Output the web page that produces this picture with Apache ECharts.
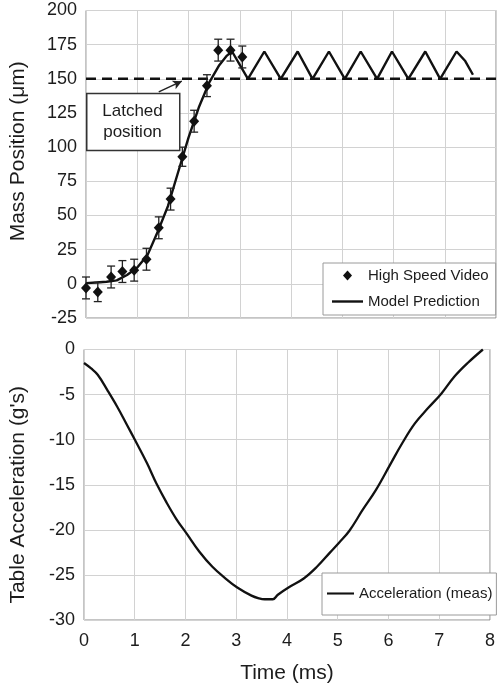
<!DOCTYPE html>
<html><head><meta charset="utf-8">
<script src="https://cdn.jsdelivr.net/npm/echarts@6/dist/echarts.min.js"></script>
<style>html,body{margin:0;padding:0;background:#fff}#c{width:498px;height:691px}</style>
</head><body><div id="c"></div>
<script>
// High speed video measurements (time ms, position um, error um)
const videoT = [0, 0.23, 0.49, 0.71, 0.94, 1.18, 1.42, 1.65, 1.88, 2.11, 2.36, 2.58, 2.82, 3.05];
const videoY = [-3, -6, 5, 9, 10, 18, 41, 62, 93, 119, 145, 171, 171, 166];
const videoErr = [8, 7, 8, 8, 8, 8, 8, 8, 7, 8, 8, 8, 8, 8];
// Model prediction
const modelT = [0, 0.2, 0.4, 0.6, 0.8, 1.0, 1.2, 1.42, 1.6, 1.8, 2.0, 2.2, 2.4, 2.6, 2.75, 2.85, 3.16, 3.48, 3.80, 4.13, 4.42, 4.74, 5.05, 5.36, 5.68, 5.97, 6.29, 6.62, 6.91, 7.23, 7.4, 7.55];
const modelY = [0.5, 1, 1.5, 2.5, 6.5, 12, 21, 40, 57, 82, 107, 129, 147, 160, 167, 170, 150, 170, 150, 170, 150, 170, 150, 170, 150, 170, 150, 170, 150, 170, 163, 153];
// Latched position
const latchedY = 150;
// Table acceleration (meas)
const accT = [0, 0.14, 0.27, 0.46, 0.66, 0.85, 1.01, 1.24, 1.43, 1.62, 1.82, 2.02, 2.27, 2.53, 2.79, 3.02, 3.30, 3.45, 3.56, 3.72, 3.82, 4.03, 4.33, 4.59, 4.85, 5.03, 5.23, 5.49, 5.75, 6.03, 6.27, 6.52, 6.78, 7.04, 7.30, 7.56, 7.86];
const accY = [-1.5, -2.1, -2.8, -4.5, -6.4, -8.4, -10.1, -12.6, -14.9, -16.9, -18.8, -20.4, -22.4, -24.1, -25.4, -26.4, -27.3, -27.6, -27.7, -27.7, -27.2, -26.4, -25.4, -24.1, -22.5, -21.4, -20.1, -17.8, -15.6, -12.8, -10.4, -8.2, -6.5, -4.9, -3.0, -1.5, 0];

const FONT = "'Liberation Sans', Arial, sans-serif";
const TXT = '#1c1c1c';
const LINE_ICON = 'path://M0,0L31,0L31,2.4L0,2.4Z';
const DIAMOND_ICON = 'path://M5,0L10,5.5L5,11L0,5.5Z';
const chart = echarts.init(document.getElementById('c'), null, {renderer: 'canvas'});
const split = {show: true, lineStyle: {color: '#d2d2d2', width: 1}};
const option = {
  animation: false,
  backgroundColor: '#fff',
  textStyle: {fontFamily: FONT, color: TXT},
  grid: [
    {left: 82, top: 10.5, width: 414, height: 307.5, show: true, borderColor: '#8a8a8a', borderWidth: 1, backgroundColor: 'transparent'},
    {left: 82.5, top: 349.5, width: 413.5, height: 270.5, show: true, borderColor: '#8a8a8a', borderWidth: 1, backgroundColor: 'transparent'}
  ],
  xAxis: [
    {gridIndex: 0, type: 'value', min: 0, max: 8, interval: 1, axisLabel: {show: false}, axisTick: {show: false}, axisLine: {show: false}, splitLine: split},
    {gridIndex: 1, type: 'value', min: 0, max: 8, interval: 1, axisTick: {show: false}, axisLine: {show: false}, splitLine: split,
     axisLabel: {fontSize: 18, color: TXT, fontFamily: FONT, margin: 12},
     name: 'Time (ms)', nameLocation: 'middle', nameGap: 43, nameTextStyle: {fontSize: 21, color: TXT, fontFamily: FONT}}
  ],
  yAxis: [
    {gridIndex: 0, type: 'value', min: -25, max: 200, interval: 25, axisTick: {show: false}, axisLine: {show: false}, splitLine: split,
     axisLabel: {fontSize: 18, color: TXT, fontFamily: FONT, margin: 9},
     name: 'Mass Position (μm)', nameLocation: 'middle', nameGap: 57,
     nameTextStyle: {fontSize: 21, color: TXT, fontFamily: FONT, padding: [0, 0, 0, 26]}},
    {gridIndex: 1, type: 'value', min: -30, max: 0, interval: 5, axisTick: {show: false}, axisLine: {show: false}, splitLine: split,
     axisLabel: {fontSize: 18, color: TXT, fontFamily: FONT, margin: 9},
     name: "Table Acceleration (g's)", nameLocation: 'middle', nameGap: 55,
     nameTextStyle: {fontSize: 21, color: TXT, fontFamily: FONT, padding: [0, 20, 0, 0]}}
  ],
  legend: [
    {show: true, left: 323, top: 263, orient: 'vertical', backgroundColor: '#fff', borderColor: '#9a9a9a', borderWidth: 1,
     padding: [5, 7, 6, 9], itemGap: 11, itemWidth: 31, itemHeight: 10, symbolKeepAspect: true,
     textStyle: {fontSize: 15, color: TXT, fontFamily: FONT},
     data: [{name: 'High Speed Video', icon: DIAMOND_ICON}, {name: 'Model Prediction', icon: LINE_ICON}]},
    {show: true, left: 322, top: 573, orient: 'vertical', backgroundColor: '#fff', borderColor: '#9a9a9a', borderWidth: 1,
     padding: [13, 4, 14, 5], itemWidth: 27, itemHeight: 10, symbolKeepAspect: true,
     textStyle: {fontSize: 15, color: TXT, fontFamily: FONT},
     data: [{name: 'Acceleration (meas)', icon: LINE_ICON}]}
  ],
  series: [
    {name: 'Latched', type: 'line', xAxisIndex: 0, yAxisIndex: 0, symbol: 'none', silent: true,
     data: [[0, latchedY], [8, latchedY]], lineStyle: {color: '#111', width: 2.5, type: [10, 6]}, z: 2,
     markLine: {silent: true, symbol: ['none', 'arrow'], symbolSize: [7, 9], label: {show: false},
       lineStyle: {color: '#222', width: 1.5, type: 'solid'},
       data: [[{coord: [1.42, 140.5]}, {coord: [1.87, 148.3]}]]}},
    {name: 'Model Prediction', type: 'line', xAxisIndex: 0, yAxisIndex: 0, symbol: 'none',
     data: modelT.map((t, i) => [t, modelY[i]]), lineStyle: {color: '#111', width: 2.4}, itemStyle: {color: '#111'}, z: 3},
    {name: 'High Speed Video', type: 'scatter', xAxisIndex: 0, yAxisIndex: 0, symbol: 'diamond', symbolSize: [10, 11],
     data: videoT.map((t, i) => [t, videoY[i]]), itemStyle: {color: '#111', opacity: 1}, z: 5},
    {name: 'Error', type: 'custom', xAxisIndex: 0, yAxisIndex: 0, z: 4, silent: true,
     data: videoT.map((t, i) => [t, videoY[i], videoErr[i]]),
     renderItem: function (params, api) {
       const x = api.value(0), y = api.value(1), e = api.value(2);
       const top = api.coord([x, y + e]);
       const bot = api.coord([x, y - e]);
       const h = 4;
       const st = {stroke: '#222', lineWidth: 1.3, fill: null};
       return {type: 'group', children: [
         {type: 'line', shape: {x1: top[0], y1: top[1], x2: bot[0], y2: bot[1]}, style: st},
         {type: 'line', shape: {x1: top[0] - h, y1: top[1], x2: top[0] + h, y2: top[1]}, style: st},
         {type: 'line', shape: {x1: bot[0] - h, y1: bot[1], x2: bot[0] + h, y2: bot[1]}, style: st}
       ]};
     }},
    {name: 'Acceleration (meas)', type: 'line', xAxisIndex: 1, yAxisIndex: 1, symbol: 'none', smooth: 0.4,
     data: accT.map((t, i) => [t, accY[i]]), lineStyle: {color: '#111', width: 2.3}, itemStyle: {color: '#111'}}
  ],
  graphic: [
    {type: 'rect', left: 86, top: 92.7, shape: {width: 93, height: 57}, style: {fill: '#fff', stroke: '#333', lineWidth: 1.5}, z: 10},
    {type: 'text', x: 132.5, y: 122, style: {text: 'Latched\nposition', font: "17px 'Liberation Sans', Arial, sans-serif", fill: TXT, align: 'center', verticalAlign: 'middle', lineHeight: 21}, z: 11}
  ]
};
chart.setOption(option);
</script>
</body></html>
